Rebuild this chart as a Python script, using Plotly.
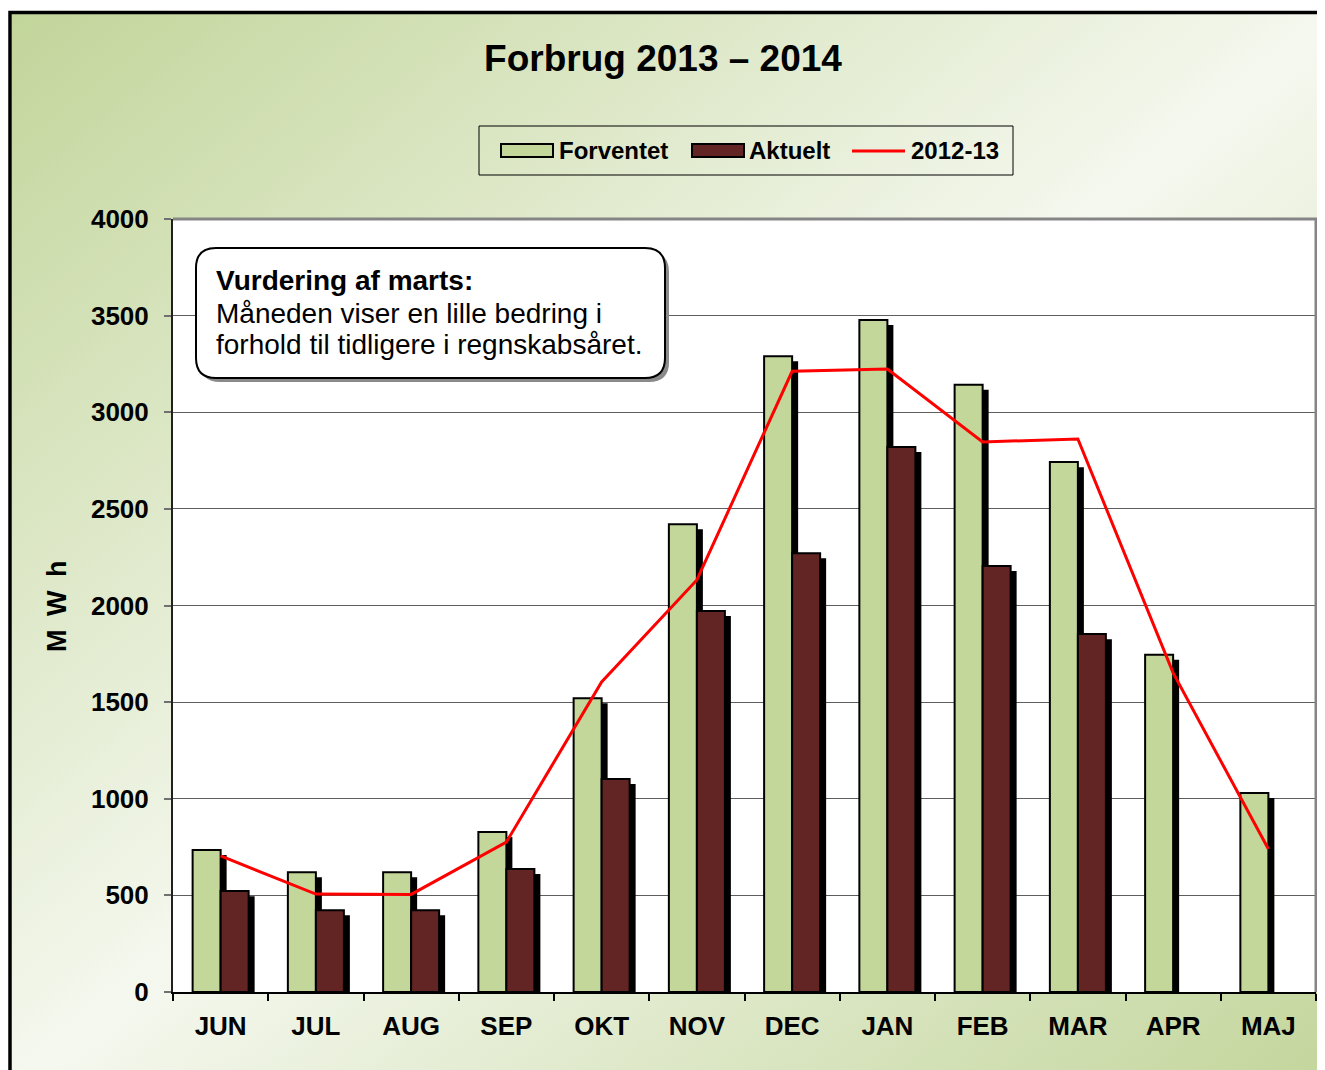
import base64
import plotly.graph_objects as go

# ---------------- data ----------------
months = ["JUN", "JUL", "AUG", "SEP", "OKT", "NOV", "DEC", "JAN", "FEB", "MAR", "APR", "MAJ"]
forventet = [735, 620, 620, 828, 1520, 2420, 3290, 3478, 3142, 2742, 1745, 1030]
aktuelt = [522, 423, 423, 636, 1102, 1972, 2270, 2820, 2204, 1852, None, None]
prev_year = [704, 507, 505, 776, 1604, 2132, 3212, 3224, 2846, 2862, 1651, 740]
y_ticks = [0, 500, 1000, 1500, 2000, 2500, 3000, 3500, 4000]

title_text = "Forbrug 2013 – 2014"
legend_names = ["Forventet", "Aktuelt", "2012-13"]
y_title = "M\u2002W\u2002h"
note_lines = ["<b>Vurdering af marts:</b>",
              "Måneden viser en lille bedring i",
              "forhold til tidligere i regnskabsåret."]

# ---------------- styling ----------------
FONT = "Arial, 'Liberation Sans', sans-serif"
GREEN = "#c4d79b"
DARK = "#632523"
RED = "#ff0000"

FIG_W, FIG_H = 1325, 1070
OFF = 8                      # page offset of the figure
L, R, T, B = 173, 1316, 219, 992   # plot area in screen pixels
W, H = R - L, B - T


def PX(x):
    return (x - L) / W


def PY(y):
    return (B - y) / H


BAR_W = 0.294          # bar width in category units
SH_X = 0.063           # shadow shift (category units)
SH_Y = 26              # shadow drop (data units)

fig = go.Figure()

# shadows + bars
fig.add_trace(go.Bar(x=months, y=[None if v is None else v - SH_Y for v in forventet],
                     offset=-BAR_W + SH_X, width=BAR_W, marker=dict(color="black", line=dict(width=0)),
                     showlegend=False, hoverinfo="skip"))
fig.add_trace(go.Bar(x=months, y=forventet, name=legend_names[0], offset=-BAR_W, width=BAR_W,
                     marker=dict(color=GREEN, line=dict(color="black", width=2)), showlegend=False))
fig.add_trace(go.Bar(x=months, y=[None if v is None else v - SH_Y for v in aktuelt],
                     offset=SH_X, width=BAR_W, marker=dict(color="black", line=dict(width=0)),
                     showlegend=False, hoverinfo="skip"))
fig.add_trace(go.Bar(x=months, y=aktuelt, name=legend_names[1], offset=0, width=BAR_W,
                     marker=dict(color=DARK, line=dict(color="black", width=2)), showlegend=False))
fig.add_trace(go.Scatter(x=months, y=prev_year, name=legend_names[2], mode="lines",
                         line=dict(color=RED, width=3), showlegend=False))

# ---------------- background gradient (image) ----------------
svg = ('<svg xmlns="http://www.w3.org/2000/svg" width="100" height="100" viewBox="0 0 100 100" '
       'preserveAspectRatio="none"><defs><linearGradient id="g" x1="0" y1="0" x2="1" y2="1">'
       '<stop offset="0" stop-color="#c2d59a"/><stop offset="0.5" stop-color="#f5f8ef"/>'
       '<stop offset="1" stop-color="#c2d59a"/></linearGradient></defs>'
       '<rect x="0" y="0" width="100" height="100" fill="url(#g)"/></svg>')
src = "data:image/svg+xml;base64," + base64.b64encode(svg.encode()).decode()
images = [dict(source=src, xref="paper", yref="paper", x=PX(12), y=PY(14),
               sizex=(1345 - 12) / W, sizey=(1090 - 14) / H, sizing="stretch",
               xanchor="left", yanchor="top", layer="below")]

shapes = []
# white plot area
shapes.append(dict(type="rect", xref="paper", yref="paper", x0=0, x1=1, y0=0, y1=1,
                   fillcolor="white", line=dict(width=0), layer="below"))
# outer frame (left + top)
shapes.append(dict(type="path", xref="paper", yref="paper",
                   path=f"M {PX(10)},{PY(1090)} L {PX(10)},{PY(12.5)} L {PX(1345)},{PY(12.5)}",
                   line=dict(color="black", width=3.5), layer="below"))
# top and right border of plot area
shapes.append(dict(type="path", xref="paper", yref="paper",
                   path="M 0,1 L 1,1 L 1,0", line=dict(color="#858585", width=3), layer="above"))


def rrect(x0, y0, x1, y1, r):
    p = [
        f"M {PX(x0 + r)},{PY(y0)}", f"L {PX(x1 - r)},{PY(y0)}",
        f"Q {PX(x1)},{PY(y0)} {PX(x1)},{PY(y0 + r)}", f"L {PX(x1)},{PY(y1 - r)}",
        f"Q {PX(x1)},{PY(y1)} {PX(x1 - r)},{PY(y1)}", f"L {PX(x0 + r)},{PY(y1)}",
        f"Q {PX(x0)},{PY(y1)} {PX(x0)},{PY(y1 - r)}", f"L {PX(x0)},{PY(y0 + r)}",
        f"Q {PX(x0)},{PY(y0)} {PX(x0 + r)},{PY(y0)}", "Z"]
    return " ".join(p)


# note box: shadow + box
shapes.append(dict(type="path", xref="paper", yref="paper", path=rrect(200, 252, 669, 382, 20),
                   fillcolor="#8a8a8a", line=dict(width=0), layer="above"))
shapes.append(dict(type="path", xref="paper", yref="paper", path=rrect(196, 248, 665, 378, 20),
                   fillcolor="white", line=dict(color="black", width=2), layer="above"))

# custom legend
shapes.append(dict(type="rect", xref="paper", yref="paper", x0=PX(479), x1=PX(1013), y0=PY(175), y1=PY(126),
                   line=dict(color="black", width=1), fillcolor="rgba(0,0,0,0)", layer="above"))
shapes.append(dict(type="rect", xref="paper", yref="paper", x0=PX(501), x1=PX(553), y0=PY(157), y1=PY(144),
                   line=dict(color="black", width=2), fillcolor=GREEN, layer="above"))
shapes.append(dict(type="rect", xref="paper", yref="paper", x0=PX(692), x1=PX(744), y0=PY(157), y1=PY(144),
                   line=dict(color="black", width=2), fillcolor=DARK, layer="above"))
shapes.append(dict(type="line", xref="paper", yref="paper", x0=PX(852), x1=PX(905), y0=PY(151), y1=PY(151),
                   line=dict(color=RED, width=3), layer="above"))

annotations = []
for name, xl in zip(legend_names, [557, 747, 909]):
    annotations.append(dict(text=f"<b>{name}</b>", xref="paper", yref="paper", x=PX(xl), y=PY(151),
                            xanchor="left", yanchor="middle", showarrow=False,
                            font=dict(family=FONT, size=24, color="black")))
for line, yc in zip(note_lines, [281, 313, 345]):
    annotations.append(dict(text=line, xref="paper", yref="paper", x=PX(214), y=PY(yc),
                            xanchor="left", yanchor="middle", showarrow=False,
                            font=dict(family=FONT, size=28, color="black")))
annotations.append(dict(text=f"<b>{y_title}</b>", xref="paper", yref="paper", x=PX(57), y=PY(607),
                        xanchor="center", yanchor="middle", textangle=-90, showarrow=False,
                        font=dict(family=FONT, size=27, color="black")))

fig.update_layout(
    width=FIG_W, height=FIG_H,
    margin=dict(l=L - OFF, r=FIG_W - (R - OFF), t=T - OFF, b=FIG_H - (B - OFF)),
    paper_bgcolor="white", plot_bgcolor="white",
    barmode="overlay",
    title=dict(text=f"<b>{title_text}</b>", x=(663 - OFF) / FIG_W, xref="container", xanchor="center",
               y=1 - (58 - OFF) / FIG_H, yref="container", yanchor="middle",
               font=dict(family=FONT, size=37, color="black")),
    images=images, shapes=shapes, annotations=annotations,
    xaxis=dict(type="category", categoryorder="array", categoryarray=months,
               showline=True, linecolor="black", linewidth=2,
               ticks="outside", tickson="boundaries", ticklen=7, tickcolor="black", tickwidth=1.5,
               showgrid=False, ticklabelstandoff=10,
               tickfont=dict(family=FONT, size=26, color="black"),
               tickprefix="<b>", ticksuffix="</b>"),
    yaxis=dict(range=[0, 4000], tickvals=y_ticks, ticktext=[f"<b>{v}</b>" for v in y_ticks],
               showline=True, linecolor="#202020", linewidth=2,
               ticks="outside", ticklen=7, tickcolor="#707070", tickwidth=2,
               showgrid=True, gridcolor="#5e5e5e", gridwidth=1, zeroline=False,
               ticklabelstandoff=10,
               tickfont=dict(family=FONT, size=26, color="black")),
    showlegend=False,
)

fig.write_html("out.html")
